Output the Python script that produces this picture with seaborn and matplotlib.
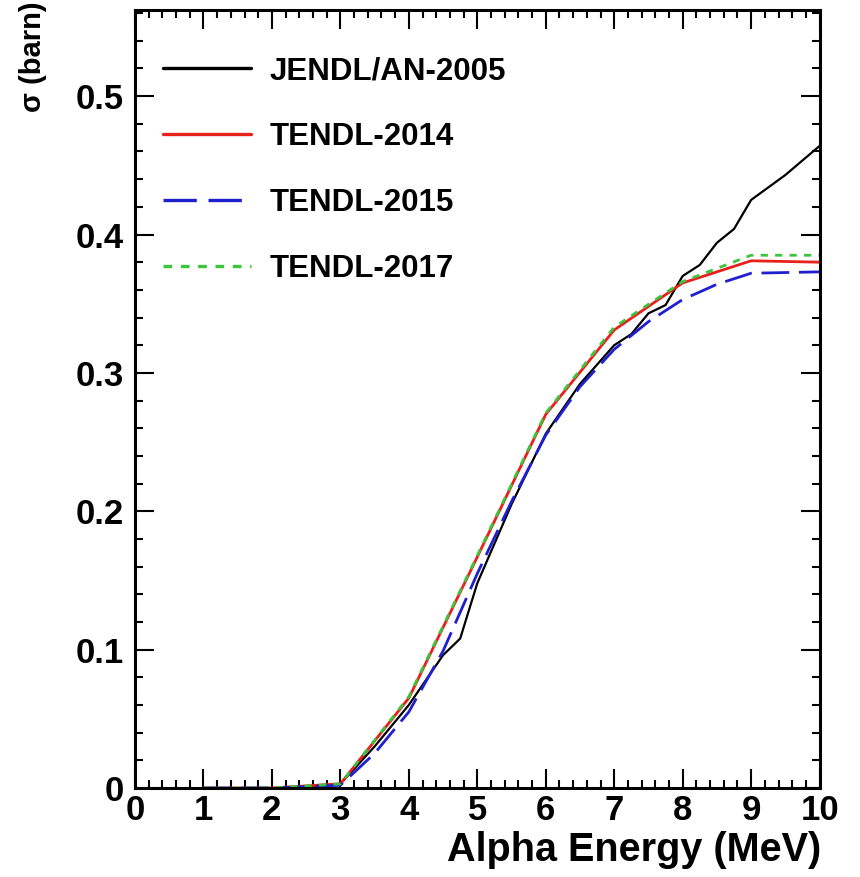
import numpy as np
import pandas as pd
import seaborn as sns
import matplotlib
matplotlib.use("Agg")
import matplotlib.pyplot as plt
from matplotlib.ticker import MultipleLocator

# ---------------- data ----------------
jendl_E = [2.5, 3.0, 3.5, 4.0, 4.25, 4.5, 4.75, 5.0, 5.5, 6.0, 6.5, 7.0, 7.25, 7.5, 7.75, 8.0, 8.25, 8.5, 8.75, 9.0, 9.5, 10.0]
jendl_s = [0.0, 0.003, 0.030, 0.060, 0.078, 0.096, 0.108, 0.148, 0.205, 0.256, 0.292, 0.320, 0.328, 0.343, 0.349, 0.370, 0.378, 0.394, 0.404, 0.425, 0.443, 0.464]

t14_E = [1, 2, 3, 4, 5, 6, 7, 8, 9, 10]
t14_s = [0.0, 0.0, 0.003, 0.065, 0.167, 0.270, 0.331, 0.365, 0.381, 0.380]

t15_E = [1, 2, 3, 3.5, 4, 4.5, 5, 5.5, 6, 6.5, 7, 7.5, 8, 8.5, 9, 10]
t15_s = [0.0, 0.0, 0.002, 0.025, 0.055, 0.099, 0.155, 0.207, 0.255, 0.290, 0.317, 0.337, 0.353, 0.364, 0.372, 0.373]

t17_E = [1, 2, 3, 4, 5, 6, 7, 8, 9, 10]
t17_s = [0.0, 0.0, 0.003, 0.066, 0.168, 0.271, 0.333, 0.366, 0.385, 0.385]

labels = ["JENDL/AN-2005", "TENDL-2014", "TENDL-2015", "TENDL-2017"]
colors = ["black", "#e8201c", "#1f1fd0", "#3cc43c"]

x_ticks = list(range(0, 11))
y_ticks = [0, 0.1, 0.2, 0.3, 0.4, 0.5]
y_ticklabels = ["0", "0.1", "0.2", "0.3", "0.4", "0.5"]

# ---------------- style ----------------
sns.set_theme(style="ticks")
plt.rcParams["font.family"] = ["Liberation Sans", "DejaVu Sans"]
plt.rcParams["font.weight"] = "bold"
plt.rcParams["text.color"] = "black"
plt.rcParams["axes.labelcolor"] = "black"
plt.rcParams["xtick.color"] = "black"
plt.rcParams["ytick.color"] = "black"
plt.rcParams["xtick.labelcolor"] = "black"
plt.rcParams["ytick.labelcolor"] = "black"

fig = plt.figure(figsize=(8.6, 8.77), dpi=100)
ax = fig.add_axes([0.157, 0.1015, 0.796, 0.8875])

series = [
    (jendl_E, jendl_s, labels[0], colors[0], "-", 1.6),
    (t14_E, t14_s, labels[1], colors[1], "-", 2.0),
    (t15_E, t15_s, labels[2], colors[2], (0, (10, 3.5)), 2.0),
    (t17_E, t17_s, labels[3], colors[3], (0, (2.6, 2.6)), 2.0),
]
for E, s, lab, c, ls, lw in series:
    df = pd.DataFrame({"E": E, "sigma": s})
    sns.lineplot(data=df, x="E", y="sigma", ax=ax, color=c, linestyle=ls,
                 linewidth=lw, label=lab, estimator=None, sort=True)

ax.set_xlim(0, 10)
ax.set_ylim(0, 0.5625)
ax.set_xticks(x_ticks)
ax.set_xticklabels([str(t) for t in x_ticks])
ax.set_yticks(y_ticks)
ax.set_yticklabels(y_ticklabels)
ax.xaxis.set_minor_locator(MultipleLocator(0.2))
ax.yaxis.set_minor_locator(MultipleLocator(0.02))

for sp in ax.spines.values():
    sp.set_visible(True)
    sp.set_linewidth(2.2)
    sp.set_color("black")

ax.tick_params(which="both", direction="in", top=True, right=True, width=1.5, color="black")
ax.tick_params(which="major", length=14)
ax.tick_params(which="minor", length=6)
ax.tick_params(axis="x", which="major", labelsize=25, pad=4)
ax.tick_params(axis="y", which="major", labelsize=25, pad=8)
for t in ax.get_xticklabels() + ax.get_yticklabels():
    t.set_fontweight("bold")
    t.set_color("black")

ax.set_xlabel("Alpha Energy (MeV)", loc="right", fontsize=28.5, fontweight="bold", color="black")
ax.xaxis.set_label_coords(1.003, -0.055)
ax.set_ylabel("σ (barn)", loc="top", fontsize=21, fontweight="bold", color="black")
ax.yaxis.set_label_coords(-0.128, 1.01)

leg = ax.legend(loc="upper left", bbox_to_anchor=(0.041, 0.94), frameon=False,
                fontsize=22.5, handlelength=2.8, handletextpad=0.6,
                labelspacing=1.15, borderaxespad=0, borderpad=0)
for t in leg.get_texts():
    t.set_fontweight("bold")
    t.set_color("black")
for h in leg.get_lines():
    h.set_linewidth(2.4)

ax.set_facecolor("white")
fig.patch.set_facecolor("white")
fig.savefig("out.png", dpi=100)
